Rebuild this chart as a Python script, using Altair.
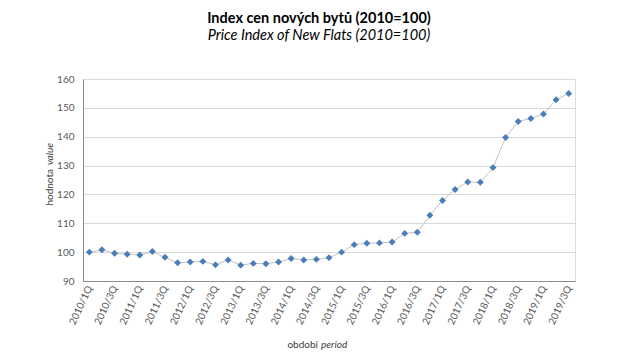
import altair as alt
import pandas as pd

periods = [f"{y}/{q}Q" for y in range(2010, 2020) for q in range(1, 5)][:39]
values = [100.0, 100.8, 99.6, 99.3, 99.0, 100.2, 98.2, 96.3, 96.6, 96.8,
          95.6, 97.3, 95.5, 96.1, 96.0, 96.6, 97.8, 97.3, 97.5, 98.1,
          100.0, 102.6, 103.1, 103.2, 103.5, 106.5, 106.9, 112.8, 117.9, 121.7,
          124.3, 124.2, 129.3, 139.7, 145.3, 146.3, 147.9, 152.8, 155.0]
tick_labels = periods[::2]
y_ticks = [90, 100, 110, 120, 130, 140, 150, 160]

title_main = "Index cen nových bytů (2010=100)"
title_sub = "Price Index of New Flats (2010=100)"
ytitle_normal = ["hodnota"]
ytitle_italic = ["value"]
xtitle_normal = ["obdobi"]
xtitle_italic = ["period"]

df = pd.DataFrame({"period": periods, "value": values})
FONT = "Lato"

x_enc = alt.X("period:N", sort=periods,
              scale=alt.Scale(type="point", padding=0.5),
              axis=alt.Axis(values=tick_labels, labelAngle=295, labelAlign="right",
                            labelBaseline="middle", ticks=False, labelPadding=5,
                            labelFontSize=10, labelColor="#595959", title=None,
                            domainColor="#8c8c8c", grid=False, labelFont=FONT))
y_enc = alt.Y("value:Q", scale=alt.Scale(domain=[90, 160], nice=False, zero=False),
              axis=alt.Axis(values=y_ticks, ticks=False, labelPadding=9, labelFontSize=10,
                            labelColor="#595959", title=None, domainColor="#8c8c8c",
                            gridColor="#d9d9d9", labelFont=FONT))

base = alt.Chart(df)
line = base.mark_line(color="#c9c0c0", strokeWidth=1).encode(x=x_enc, y=y_enc)
pts = base.mark_point(shape="diamond", filled=True, size=48, color="#4a7ebb", opacity=1).encode(x=x_enc, y=y_enc)

def txt(words, **kw):
    return alt.Chart(pd.DataFrame({"t": words})).mark_text(font=FONT, fontSize=10, color="#404040", **kw)

yt1 = txt(ytitle_normal, angle=270, align="right", baseline="middle").encode(
    text="t:N", x=alt.value(-33), y=alt.value(90))
yt2 = txt(ytitle_italic, angle=270, align="left", baseline="middle", fontStyle="italic").encode(
    text="t:N", x=alt.value(-33), y=alt.value(86))
xt1 = txt(xtitle_normal, align="right", baseline="middle").encode(
    text="t:N", x=alt.value(235), y=alt.value(266))
xt2 = txt(xtitle_italic, align="left", baseline="middle", fontStyle="italic").encode(
    text="t:N", x=alt.value(238), y=alt.value(266))

chart = alt.layer(line, pts, yt1, yt2, xt1, xt2).properties(
    width=492, height=202,
    title=alt.TitleParams(text=title_main, subtitle=title_sub, anchor="middle", dx=-10,
                          font=FONT, fontSize=14.5, fontWeight="bold", color="#000000",
                          subtitleFont=FONT, subtitleFontSize=14.5, subtitleFontStyle="italic",
                          subtitleColor="#000000", subtitlePadding=2, offset=31),
    autosize=alt.AutoSizeParams(type="none"),
    padding={"left": 75, "top": 71, "right": 55, "bottom": 71},
).configure_view(stroke="#a6a6a6", strokeWidth=1).configure(background="white")

chart.save("out.html", embed_options={"renderer": "svg", "actions": False})
